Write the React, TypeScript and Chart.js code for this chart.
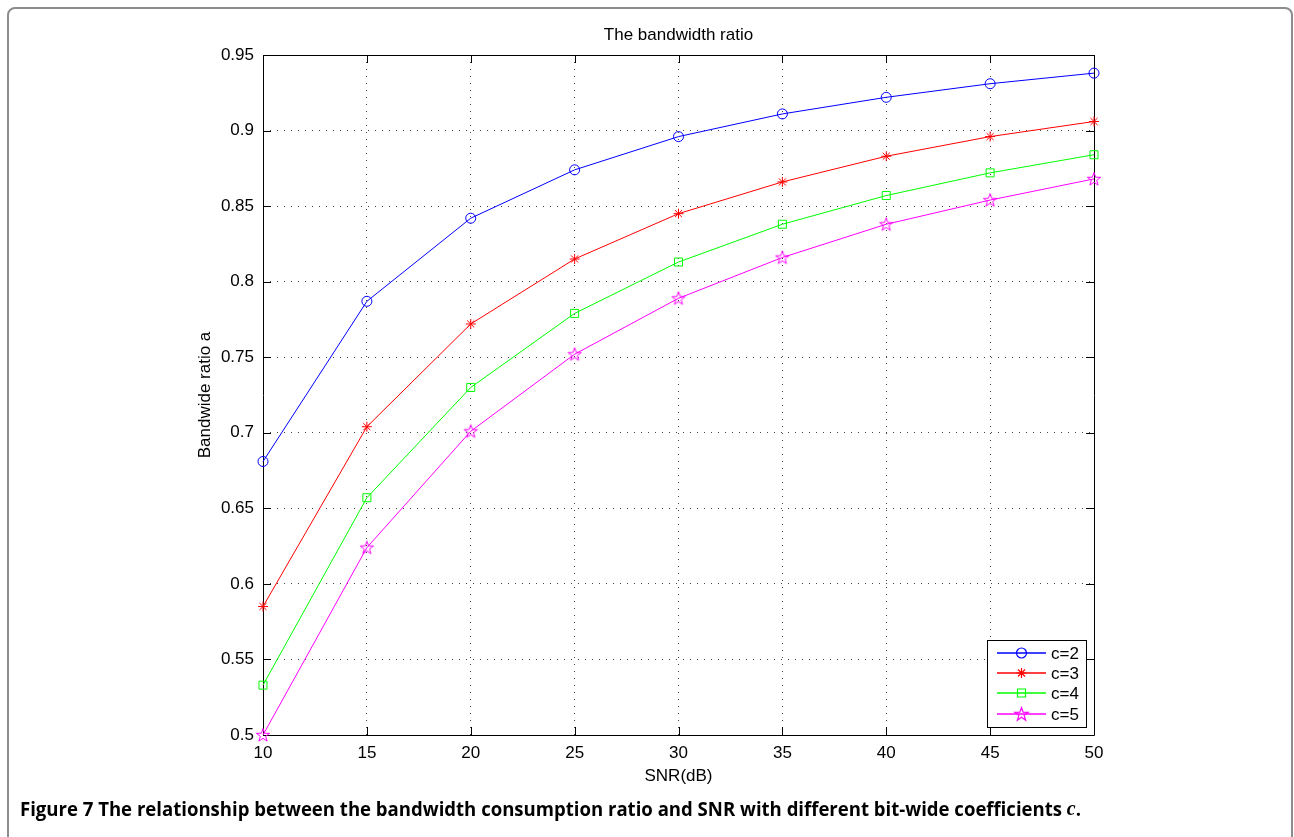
import React, { useEffect, useRef } from "react";
import { Chart, registerables } from "chart.js";

Chart.register(...registerables);

const snr = [10, 15, 20, 25, 30, 35, 40, 45, 50];
const c2 = [0.681, 0.787, 0.842, 0.874, 0.896, 0.911, 0.922, 0.931, 0.938];
const c3 = [0.585, 0.704, 0.772, 0.815, 0.845, 0.866, 0.883, 0.896, 0.906];
const c4 = [0.533, 0.657, 0.73, 0.779, 0.813, 0.838, 0.857, 0.872, 0.884];
const c5 = [0.5, 0.624, 0.701, 0.752, 0.789, 0.816, 0.838, 0.854, 0.868];
const seriesNames = ["c=2", "c=3", "c=4", "c=5"];
const seriesColors = ["#0000ff", "#ff0000", "#00ff00", "#ff00ff"];
const xTicks = [10, 15, 20, 25, 30, 35, 40, 45, 50];
const yTicks = [0.5, 0.55, 0.6, 0.65, 0.7, 0.75, 0.8, 0.85, 0.9, 0.95];

const TITLE = "The bandwidth ratio";
const XLABEL = "SNR(dB)";
const YLABEL = "Bandwide ratio a";
const CAPTION_BOLD = "Figure 7";
const CAPTION_TEXT = " The relationship between the bandwidth consumption ratio and SNR with different bit-wide coefficients ";
const CAPTION_ITALIC = "c";
const CAPTION_END = ".";

const FONT = "'Liberation Sans', Arial, Helvetica, sans-serif";
const FS = 17;

function pentagramPath(ctx: CanvasRenderingContext2D, cx: number, cy: number, ro: number, ri: number) {
  ctx.beginPath();
  for (let i = 0; i < 10; i++) {
    const r = i % 2 === 0 ? ro : ri;
    const a = -Math.PI / 2 + (i * Math.PI) / 5;
    const px = cx + r * Math.cos(a);
    const py = cy + r * Math.sin(a);
    if (i === 0) ctx.moveTo(px, py);
    else ctx.lineTo(px, py);
  }
  ctx.closePath();
}

function makePentagram(color: string) {
  const c = document.createElement("canvas");
  c.width = 16;
  c.height = 16;
  const ctx = c.getContext("2d")!;
  ctx.strokeStyle = color;
  ctx.lineWidth = 1;
  pentagramPath(ctx, 8, 8.5, 7, 2.8);
  ctx.stroke();
  return c;
}

function drawMarker(ctx: CanvasRenderingContext2D, i: number, x: number, y: number) {
  const col = seriesColors[i];
  ctx.save();
  ctx.strokeStyle = col;
  ctx.lineWidth = 1.2;
  ctx.beginPath();
  if (i === 0) {
    ctx.arc(x, y, 5, 0, Math.PI * 2);
    ctx.stroke();
  } else if (i === 1) {
    const r = 5;
    ctx.moveTo(x - r, y);
    ctx.lineTo(x + r, y);
    ctx.moveTo(x, y - r);
    ctx.lineTo(x, y + r);
    const d = r * Math.SQRT1_2;
    ctx.moveTo(x - d, y - d);
    ctx.lineTo(x + d, y + d);
    ctx.moveTo(x - d, y + d);
    ctx.lineTo(x + d, y - d);
    ctx.stroke();
  } else if (i === 2) {
    ctx.rect(x - 4, y - 4, 8, 8);
    ctx.stroke();
  } else {
    pentagramPath(ctx, x, y + 0.5, 7, 2.8);
    ctx.stroke();
  }
  ctx.restore();
}

const decorPlugin = {
  id: "decor",
  beforeDraw(chart: any) {
    const ctx = chart.ctx as CanvasRenderingContext2D;
    ctx.save();
    ctx.fillStyle = "#ffffff";
    ctx.fillRect(0, 0, chart.width, chart.height);
    ctx.strokeStyle = "#8c8c8c";
    ctx.lineWidth = 2;
    ctx.beginPath();
    (ctx as any).roundRect(8, 8, 1284, 900, 7);
    ctx.stroke();
    ctx.restore();
  },
  beforeDatasetsDraw(chart: any) {
    const ctx = chart.ctx as CanvasRenderingContext2D;
    const { left, right, top, bottom } = chart.chartArea;
    const xs = chart.scales.x;
    const ys = chart.scales.y;
    ctx.save();
    ctx.strokeStyle = "#000";
    ctx.lineWidth = 1;
    ctx.beginPath();
    ctx.rect(Math.round(left) + 0.5, Math.round(top) + 0.5, Math.round(right - left), Math.round(bottom - top));
    ctx.stroke();
    const tl = 8;
    ctx.beginPath();
    for (const v of xTicks) {
      const px = Math.round(xs.getPixelForValue(v)) + 0.5;
      ctx.moveTo(px, bottom);
      ctx.lineTo(px, bottom - tl);
      ctx.moveTo(px, top);
      ctx.lineTo(px, top + tl);
    }
    for (const v of yTicks) {
      const py = Math.round(ys.getPixelForValue(v)) + 0.5;
      ctx.moveTo(left, py);
      ctx.lineTo(left + tl, py);
      ctx.moveTo(right, py);
      ctx.lineTo(right - tl, py);
    }
    ctx.stroke();

    ctx.fillStyle = "#000";
    ctx.font = `${FS}px ${FONT}`;
    ctx.textAlign = "center";
    ctx.textBaseline = "middle";
    ctx.fillText(TITLE, (left + right) / 2, 35);
    ctx.fillText(XLABEL, (left + right) / 2, 776);
    ctx.save();
    ctx.translate(205, (top + bottom) / 2);
    ctx.rotate(-Math.PI / 2);
    ctx.fillText(YLABEL, 0, 0);
    ctx.restore();

    // caption (horizontally fitted to the reference width)
    const CS = 19.5;
    const boldFont = `bold ${CS}px 'Open Sans', 'Noto Sans', sans-serif`;
    const italFont = `bold italic ${CS + 1.5}px 'Liberation Serif', 'DejaVu Serif', serif`;
    ctx.font = boldFont;
    const w1 = ctx.measureText(CAPTION_BOLD + CAPTION_TEXT).width;
    const w3 = ctx.measureText(CAPTION_END).width;
    ctx.font = italFont;
    const w2 = ctx.measureText(CAPTION_ITALIC).width;
    const x0 = 20;
    const target = 1081 - x0;
    const sx = target / (w1 + w2 + w3);
    ctx.save();
    ctx.translate(x0, 810);
    ctx.scale(sx, 1);
    ctx.textAlign = "left";
    ctx.font = boldFont;
    ctx.fillText(CAPTION_BOLD + CAPTION_TEXT, 0, 0);
    ctx.font = italFont;
    ctx.fillText(CAPTION_ITALIC, w1, 0);
    ctx.font = boldFont;
    ctx.fillText(CAPTION_END, w1 + w2, 0);
    ctx.restore();
    ctx.restore();
  },
  afterDatasetsDraw(chart: any) {
    const ctx = chart.ctx as CanvasRenderingContext2D;
    ctx.save();
    const bx = 987.5, by = 640.5, bw = 99, bh = 87;
    ctx.fillStyle = "#fff";
    ctx.fillRect(bx, by, bw, bh);
    ctx.strokeStyle = "#000";
    ctx.lineWidth = 1;
    ctx.strokeRect(bx, by, bw, bh);
    const rows = [653, 673, 693, 714];
    ctx.font = `${FS}px ${FONT}`;
    ctx.textAlign = "left";
    ctx.textBaseline = "middle";
    seriesNames.forEach((name, i) => {
      const y = rows[i];
      ctx.strokeStyle = seriesColors[i];
      ctx.lineWidth = 1.3;
      ctx.beginPath();
      ctx.moveTo(997, y);
      ctx.lineTo(1046, y);
      ctx.stroke();
      drawMarker(ctx, i, 1021.5, y);
      ctx.fillStyle = "#000";
      ctx.fillText(name, 1051, y + 1);
    });
    ctx.restore();
  },
};

export default function App() {
  const ref = useRef<HTMLCanvasElement>(null);
  useEffect(() => {
    if (!ref.current) return;
    const series = [c2, c3, c4, c5];
    const styles: any[] = ["circle", "star", "rect", makePentagram(seriesColors[3])];
    const radii = [5, 5, 5.66, 7];
    const chart = new Chart(ref.current, {
      type: "line",
      data: {
        datasets: series.map((s, i) => ({
          label: seriesNames[i],
          data: snr.map((x, j) => ({ x, y: s[j] })),
          borderColor: seriesColors[i],
          backgroundColor: "rgba(0,0,0,0)",
          borderWidth: 1,
          pointStyle: styles[i],
          pointRadius: radii[i],
          pointHoverRadius: radii[i],
          pointBorderColor: seriesColors[i],
          pointBackgroundColor: "rgba(0,0,0,0)",
          pointBorderWidth: 1,
          tension: 0,
          clip: false as any,
        })),
      },
      options: {
        responsive: false,
        animation: false,
        events: [],
        layout: { padding: { left: 0, right: 200, top: 55, bottom: 0 } },
        plugins: { legend: { display: false }, title: { display: false }, tooltip: { enabled: false } },
        scales: {
          x: {
            type: "linear",
            min: 10,
            max: 50,
            afterBuildTicks: (s: any) => { s.ticks = xTicks.map((v) => ({ value: v })); },
            afterFit: (s: any) => { s.height = 102; },
            grid: { color: "#444", lineWidth: 1, drawTicks: false },
            border: { display: false, dash: [1, 6] },
            ticks: { color: "#000", font: { size: FS, family: FONT }, padding: 8, maxRotation: 0, autoSkip: false, callback: (v: any) => String(v) },
          },
          y: {
            type: "linear",
            min: 0.5,
            max: 0.95,
            afterBuildTicks: (s: any) => { s.ticks = yTicks.map((v) => ({ value: v })); },
            afterFit: (s: any) => { s.width = 263; },
            grid: { color: "#444", lineWidth: 1, drawTicks: false },
            border: { display: false, dash: [1, 6] },
            ticks: { color: "#000", font: { size: FS, family: FONT }, padding: 9, autoSkip: false, callback: (v: any) => String(Number(Number(v).toFixed(2))) },
          },
        },
      },
      plugins: [decorPlugin],
    } as any);
    return () => chart.destroy();
  }, []);
  return (
    <div style={{ position: "fixed", left: 0, top: 0, width: 1294, height: 837 }}>
      <canvas ref={ref} width={1294} height={837} style={{ display: "block" }} />
    </div>
  );
}
